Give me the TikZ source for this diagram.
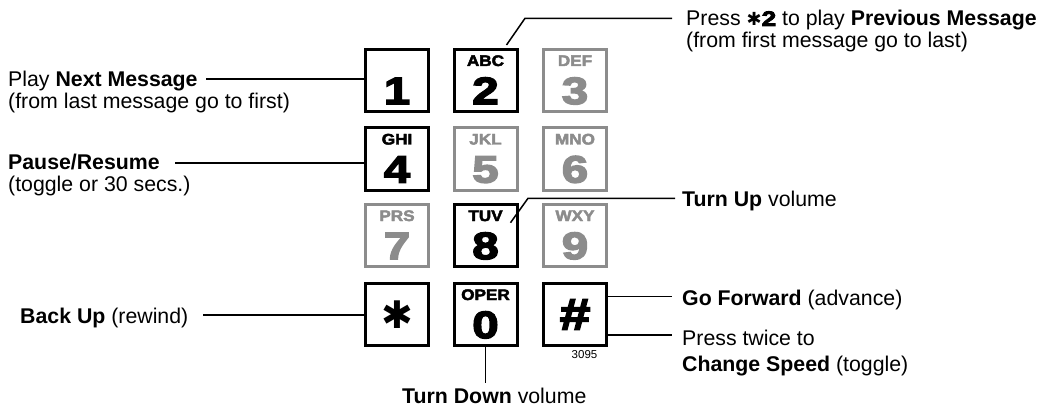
\documentclass[tikz,border=0pt]{standalone}
\usepackage{fontspec}
\setmainfont{Liberation Sans}
\newfontfamily\keyfont{Liberation Sans}[UprightFont=* Bold, FakeBold=4, FakeStretch=1.25]
\newfontfamily\letfont{Liberation Sans}[UprightFont=* Bold, FakeBold=3, FakeStretch=1.12]
\newfontfamily\symfont{DejaVu Sans}[UprightFont=* Bold]
\definecolor{keygray}{RGB}{140,140,140}
\tikzset{
  key/.style={draw=black, line width=3pt, fill=white, minimum width=63pt, minimum height=62pt, inner sep=0pt},
  graykey/.style={key, draw=keygray},
  letters/.style={font=\letfont\fontsize{15.3}{15.3}\selectfont, inner sep=0pt, anchor=base},
  digit/.style={font=\keyfont\fontsize{38}{38}\selectfont, inner sep=0pt, anchor=base},
  lbl/.style={font=\fontsize{21.3}{24}\selectfont, inner sep=0pt, anchor=base west},
  conn/.style={line width=1.5pt},
}
\begin{document}
\begin{tikzpicture}[x=1pt,y=-1pt]
\path[use as bounding box] (0,0) rectangle (1052,409);
% keys
\node[key]     (k1) at (397,80.5) {};
\node[key]     (k2) at (485.5,80.5) {};
\node[graykey] (k3) at (575,80.5) {};
\node[key]     (k4) at (397,159) {};
\node[graykey] (k5) at (485.5,159) {};
\node[graykey] (k6) at (575,159) {};
\node[graykey] (k7) at (397,235.5) {};
\node[key]     (k8) at (485.5,235.5) {};
\node[graykey] (k9) at (575,235.5) {};
\node[key]     (kstar) at (397,314.5) {};
\node[key]     (k0) at (485.5,314.5) {};
\node[key]     (khash) at (575,314.5) {};
% key texts
\node[digit] (d1) at ([yshift=-56pt]k1.north) {1};
\node[letters] (l2) at ([yshift=-18pt]k2.north) {ABC};
\node[digit] (d2) at ([yshift=-56pt]k2.north) {2};
\node[letters, text=keygray] (l3) at ([yshift=-18pt]k3.north) {DEF};
\node[digit, text=keygray] (d3) at ([yshift=-56pt]k3.north) {3};
\node[letters] (l4) at ([yshift=-18pt]k4.north) {GHI};
\node[digit] (d4) at ([yshift=-56pt]k4.north) {4};
\node[letters, text=keygray] (l5) at ([yshift=-18pt]k5.north) {JKL};
\node[digit, text=keygray] (d5) at ([yshift=-56pt]k5.north) {5};
\node[letters, text=keygray] (l6) at ([yshift=-18pt]k6.north) {MNO};
\node[digit, text=keygray] (d6) at ([yshift=-56pt]k6.north) {6};
\node[letters, text=keygray] (l7) at ([yshift=-18pt]k7.north) {PRS};
\node[digit, text=keygray] (d7) at ([yshift=-56pt]k7.north) {7};
\node[letters] (l8) at ([yshift=-18pt]k8.north) {TUV};
\node[digit] (d8) at ([yshift=-56pt]k8.north) {8};
\node[letters, text=keygray] (l9) at ([yshift=-18pt]k9.north) {WXY};
\node[digit, text=keygray] (d9) at ([yshift=-56pt]k9.north) {9};
\node[font=\symfont\fontsize{38}{38}\selectfont, inner sep=0pt] (dstar) at (kstar) {✱};
\node[letters] (l0) at ([yshift=-18pt]k0.north) {OPER};
\node[digit] (d0) at ([yshift=-56pt]k0.north) {0};
\node[font=\keyfont\fontsize{44}{44}\selectfont, inner sep=0pt] (dhash) at (khash) {\#};
\node[font=\fontsize{11.5}{11.5}\selectfont, inner sep=0pt] (code) at (584.5,355) {3095};
% labels
\node[lbl] (t1a) at (686,26) {Press {\symfont\fontsize{18}{18}\selectfont ✱}{\keyfont\fontsize{21}{21}\selectfont 2} to play \textbf{Previous Message}};
\node[lbl] (t1b) at (686,47.5) {(from first message go to last)};
\node[lbl] (pa) at (8,86.7) {Play \textbf{Next Message}};
\node[lbl] (pb) at (8,109) {(from last message go to first)};
\node[lbl] (ra) at (8,169) {\textbf{Pause/Resume}};
\node[lbl] (rb) at (8,191) {(toggle or 30 secs.)};
\node[lbl] (tu) at (682,206) {\textbf{Turn Up} volume};
\node[lbl] (bu) at (20,323) {\textbf{Back Up} (rewind)};
\node[lbl] (gf) at (682,305) {\textbf{Go Forward} (advance)};
\node[lbl] (pt) at (682,345) {Press twice to};
\node[lbl] (cs) at (682,371) {\textbf{Change Speed} (toggle)};
\node[lbl] (td) at (402,403.5) {\textbf{Turn Down} volume};
% connectors
\coordinate (p1) at (206,79);
\draw[conn] (p1) -- (p1 -| k1.west);
\coordinate (p4) at (175,163);
\draw[conn] (p4) -- (p4 -| k4.west);
\coordinate (ps) at (203,315);
\draw[conn] (ps) -- (ps -| kstar.west);
\coordinate (q2) at (672,18.3);
\coordinate (q2b) at (525,18.3);
\draw[conn] (q2) -- (q2b) -- ([shift={(-12pt,3pt)}]k2.north east);
\coordinate (q8) at (675,198.3);
\coordinate (q8b) at (528,198.3);
\draw[conn] (q8) -- (q8b) -- ([shift={(-8pt,-19.7pt)}]k8.north east);
\coordinate (h1) at (672,296.7);
\draw[conn] (h1 -| khash.east) -- (h1);
\coordinate (h2) at (672,335);
\draw[conn] (h2 -| khash.east) -- (h2);
\coordinate (z0) at (485.5,383);
\draw[conn] (k0.south) -- (z0);
\end{tikzpicture}
\end{document}
